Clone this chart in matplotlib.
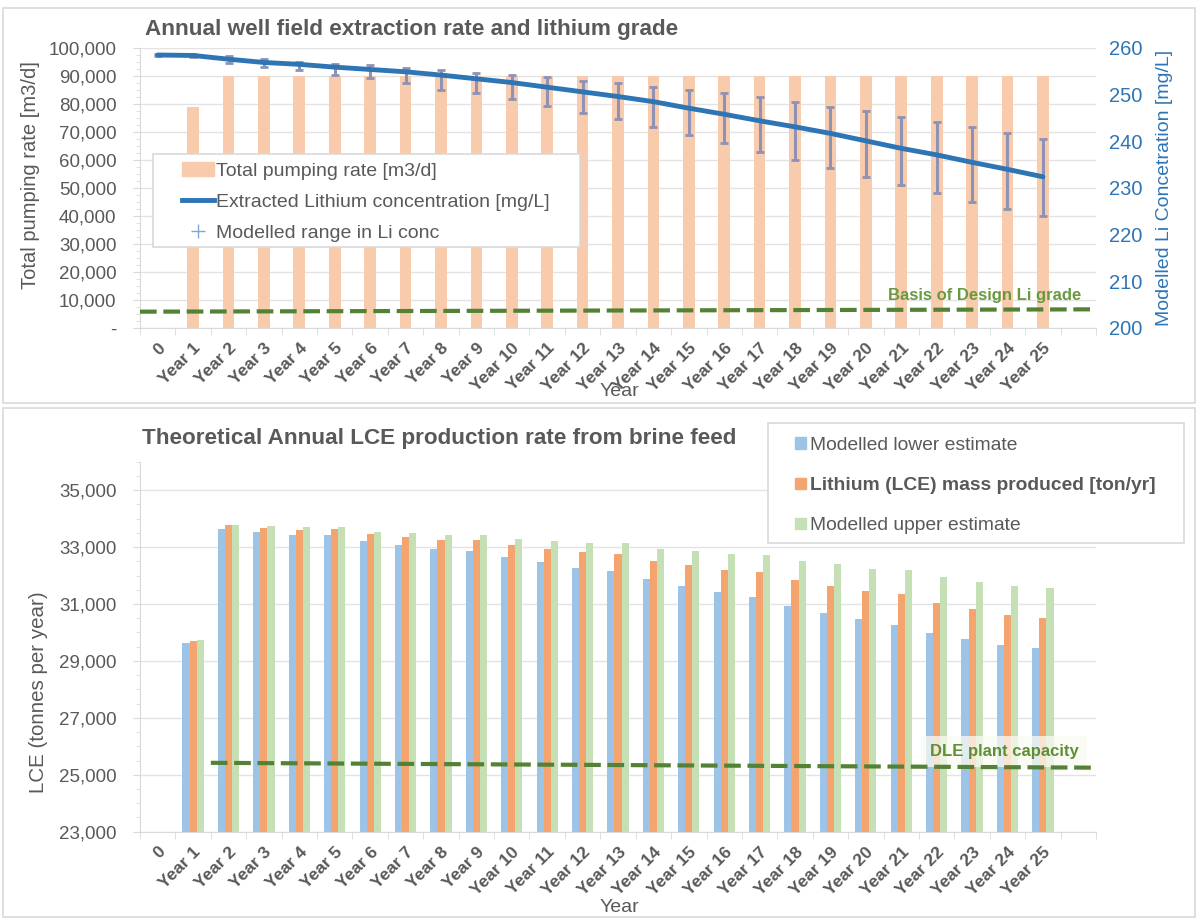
import matplotlib
matplotlib.use("Agg")
import matplotlib.pyplot as plt
from matplotlib.patches import Rectangle, Patch
from matplotlib.lines import Line2D
from matplotlib.ticker import FuncFormatter, MultipleLocator, FixedLocator

plt.rcParams['font.family'] = ['Liberation Sans', 'DejaVu Sans']

# ---- data ----
year_labels = ['0'] + ['Year %d' % i for i in range(1, 26)]
years = list(range(26))

pump_rate = [0, 79000, 90000, 90000, 90000, 90000, 90000, 90000, 90000, 90000,
             90000, 90000, 90000, 90000, 90000, 90000, 90000, 90000, 90000,
             90000, 90000, 90000, 90000, 90000, 90000, 90000]
li_conc = [258.5, 258.4, 257.6, 256.9, 256.5, 255.9, 255.4, 254.9, 254.2, 253.4,
           252.6, 251.6, 250.6, 249.6, 248.5, 247.1, 245.8, 244.4, 243.1, 241.7,
           240.1, 238.5, 237.1, 235.5, 234.0, 232.4]
li_hi = [258.7, 258.7, 258.2, 257.6, 257.1, 256.6, 256.3, 255.8, 255.3, 254.7,
         254.2, 253.7, 253.0, 252.4, 251.7, 251.0, 250.3, 249.4, 248.4, 247.4,
         246.4, 245.3, 244.1, 243.0, 241.7, 240.5]
li_lo = [258.3, 258.1, 256.8, 255.9, 255.3, 254.2, 253.5, 252.4, 251.1, 250.3,
         249.1, 247.6, 246.1, 244.7, 243.1, 241.4, 239.6, 237.8, 236.1, 234.2,
         232.4, 230.6, 228.9, 227.1, 225.6, 224.0]
basis_grade = [203.5, 204.0]   # mg/L, left and right ends

lce_lower = [0, 29640, 33650, 33540, 33440, 33420, 33200, 33090, 32940, 32880,
             32640, 32470, 32270, 32150, 31870, 31640, 31420, 31240, 30930, 30690,
             30460, 30280, 29980, 29780, 29560, 29440]
lce_mid = [0, 29710, 33770, 33680, 33600, 33620, 33450, 33360, 33240, 33240,
           33060, 32940, 32810, 32740, 32520, 32380, 32210, 32120, 31840, 31640,
           31450, 31340, 31020, 30820, 30620, 30520]
lce_upper = [0, 29730, 33790, 33740, 33690, 33690, 33540, 33480, 33410, 33430,
             33300, 33210, 33130, 33130, 32930, 32860, 32740, 32720, 32520, 32390,
             32240, 32180, 31960, 31790, 31650, 31560]
dle_capacity = [25420, 25250]  # t/yr, from Year 2 to right edge

grey = '#595959'
light = '#D9D9D9'
green = '#548235'
blue_axis = '#2E75B6'

W, H = 1198, 918
fig = plt.figure(figsize=(W / 100, H / 100), dpi=100)


def fx(px):
    return px / W


def fy(py):
    return 1 - py / H


def box(x0, y0, x1, y1, fill=False, z=1):
    r = Rectangle((fx(x0), fy(y1)), fx(x1 - x0), (y1 - y0) / H, transform=fig.transFigure,
                  fill=fill, fc='white', ec=light, lw=1.2, zorder=z)
    fig.patches.append(r)


# panel frames
box(3, 8, 1195, 403)
box(3, 408, 1195, 917)


def style_axes(ax):
    ax.set_xlim(-0.5, 26.5)
    ax.set_xticks(years)
    ax.set_xticklabels(year_labels, rotation=45, ha='right', rotation_mode='anchor',
                       fontsize=12.5, fontweight='bold', color=grey)
    ax.tick_params(axis='x', which='major', length=0, pad=9)
    ax.xaxis.set_minor_locator(FixedLocator([i - 0.5 for i in range(28)]))
    ax.tick_params(axis='x', which='minor', length=5, color=light)
    for s in ['top', 'right']:
        ax.spines[s].set_visible(False)
    ax.spines['left'].set_color(light)
    ax.spines['bottom'].set_color(light)
    ax.grid(axis='y', color='#E3E3E3', lw=1)
    ax.set_axisbelow(True)
    ax.tick_params(axis='y', which='both', color=light, labelcolor=grey, labelsize=13.5)
    ax.tick_params(axis='y', which='major', length=5, pad=12)
    ax.tick_params(axis='y', which='minor', length=3)


# ---- top chart ----
ax1 = fig.add_axes([fx(140), fy(328), fx(956), 280 / H])
ax1.bar(years, pump_rate, width=0.33, color='#F8CBAD', zorder=2)
ax1.set_ylim(0, 100000)
ax1.yaxis.set_major_locator(MultipleLocator(10000))
ax1.yaxis.set_minor_locator(MultipleLocator(2500))
ax1.yaxis.set_major_formatter(FuncFormatter(lambda v, p: '-' if v == 0 else '{:,.0f}'.format(v)))
style_axes(ax1)
ax1.set_ylabel('Total pumping rate [m3/d]', fontsize=14.5, color=grey)
ax1.yaxis.set_label_coords((40 - 140) / 956, (328 - 175) / 280)

ax2 = ax1.twinx()
ax2.set_ylim(200, 260)
ax2.set_xlim(-0.5, 26.5)
for s in ['top', 'right', 'left', 'bottom']:
    ax2.spines[s].set_visible(False)
ax2.yaxis.set_major_locator(MultipleLocator(10))
ax2.tick_params(axis='y', length=0, labelcolor=blue_axis, labelsize=14.5, pad=9)
ax2.set_ylabel('Modelled Li Concetration [mg/L]', fontsize=14, color=blue_axis)
ax2.yaxis.set_label_coords((1156 - 140) / 956, 0.5)
ax2.errorbar(years, li_conc,
             yerr=[[c - l for c, l in zip(li_conc, li_lo)], [h - c for c, h in zip(li_conc, li_hi)]],
             fmt='none', ecolor='#8E92B5', elinewidth=2.2, capsize=3, capthick=2, zorder=3)
ax2.plot(years, li_conc, color=blue_axis, lw=3.5, zorder=4, solid_capstyle='round')
ax2.plot([-0.5, 26.5], basis_grade, color=green, lw=3, dashes=(4, 1.6), zorder=5)
ax2.text(26.08, 206.9, 'Basis of Design Li grade', color='#6A9A40', fontsize=12,
         fontweight='bold', ha='right', va='center')

# top legend (frame drawn separately)
box(153, 154, 580, 247, fill=True, z=2)
h_top = [Patch(color='#F8CBAD'),
         Line2D([], [], color=blue_axis, lw=3.5),
         Line2D([], [], color='#7FA7D0', marker='+', ls='none', markersize=10)]
leg1 = fig.legend(h_top, ['Total pumping rate [m3/d]', 'Extracted Lithium concentration [mg/L]',
                          'Modelled range in Li conc'],
                  loc='upper left', bbox_to_anchor=(fx(182), fy(162)),
                  fontsize=14, frameon=False, borderpad=0, handlelength=1.65,
                  handletextpad=0.1, labelspacing=0.7, borderaxespad=0)
leg1.set_zorder(3)
for t in leg1.get_texts():
    t.set_color(grey)

fig.text(fx(145), fy(30), 'Annual well field extraction rate and lithium grade',
         fontsize=16.2, fontweight='bold', color=grey, va='center')
fig.text(fx(600), fy(392), 'Year', fontsize=14, color=grey, va='center')

# ---- bottom chart ----
ax3 = fig.add_axes([fx(140), fy(831.7), fx(956), 370 / H])
w = 0.2
ax3.bar([x - w for x in years], lce_lower, width=w, color='#9DC3E6', zorder=2)
ax3.bar(years, lce_mid, width=w, color='#F4A46E', zorder=2)
ax3.bar([x + w for x in years], lce_upper, width=w, color='#C5E0B4', zorder=2)
ax3.set_ylim(23000, 36000)
ax3.yaxis.set_major_locator(FixedLocator(list(range(23000, 36000, 2000))))
ax3.yaxis.set_minor_locator(MultipleLocator(500))
ax3.yaxis.set_major_formatter(FuncFormatter(lambda v, p: '{:,.0f}'.format(v)))
style_axes(ax3)
ax3.set_ylabel('LCE (tonnes per year)', fontsize=14.8, color=grey)
ax3.yaxis.set_label_coords((48 - 140) / 956, (831.7 - 692) / 370)
ax3.plot([1.5, 26.5], dle_capacity, color=green, lw=3, dashes=(4, 1.6), zorder=5, clip_on=False)
ax3.text(23.9, 25820, 'DLE plant capacity', color='#5E8F35', fontsize=12, fontweight='bold',
         ha='center', va='center', zorder=4,
         bbox=dict(boxstyle='square,pad=0.5', fc='#FAFAF2', ec='none', alpha=0.75))

# bottom legend (frame drawn separately)
box(768, 423, 1184, 543, fill=True, z=2)
h_bot = [Patch(color='#9DC3E6'), Patch(color='#F4A46E'), Patch(color='#C5E0B4')]
leg2 = fig.legend(h_bot, ['Modelled lower estimate', 'Lithium (LCE) mass produced [ton/yr]',
                          'Modelled upper estimate'],
                  loc='upper left', bbox_to_anchor=(fx(795), fy(437)),
                  fontsize=13.9, frameon=False, borderpad=0, handlelength=0.55,
                  handleheight=0.55, handletextpad=0.25, labelspacing=1.2, borderaxespad=0)
leg2.set_zorder(3)
for t in leg2.get_texts():
    t.set_color(grey)
leg2.get_texts()[1].set_fontweight('bold')

fig.text(fx(142), fy(439), 'Theoretical Annual LCE production rate from brine feed',
         fontsize=16.2, fontweight='bold', color=grey, va='center')
fig.text(fx(600), fy(907), 'Year', fontsize=14, color=grey, va='center')

fig.savefig('out.png', dpi=100)
